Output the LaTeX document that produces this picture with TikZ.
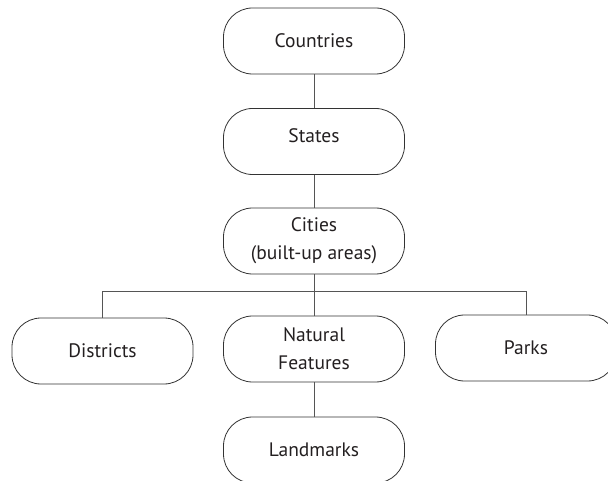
\documentclass[tikz,border=0pt]{standalone}
\usepackage{fontspec}
\setmainfont{PT Sans}
\definecolor{boxc}{HTML}{333333}
\definecolor{linec}{HTML}{555555}
\definecolor{txt}{HTML}{231F20}
\begin{document}
\begin{tikzpicture}[x=1pt,y=-1pt,
  lbl/.style={font=\fontsize{19.5}{28}\selectfont, text=txt},
  box/.style={draw=boxc, line width=0.8pt, rounded corners=29pt,
    minimum width=181pt, minimum height=66pt, inner sep=0pt,
    lbl, align=center},
  conn/.style={draw=linec, line width=0.9pt}]
\useasboundingbox (0,0) rectangle (608,481);
\clip (0,0) rectangle (608,481);
\node[box] (countries) at (314,41) {Countries};
\node[box, label={[yshift=6pt, lbl]center:States}] (states) at (314,141.5) {};
\node[box] (cities) at (314,241) {Cities\\(built-up areas)};
\node[box] (districts) at (102.5,351) {Districts};
\node[box] (natural) at (314,349) {Natural\\Features};
\node[box] (parks) at (526,348) {Parks};
\node[box] (landmarks) at (314,450) {Landmarks};
\coordinate (bus) at (314,291);
\coordinate (busL) at (districts.north |- bus);
\coordinate (busR) at (parks.north |- bus);
\draw[conn] (countries.south) -- (states.north);
\draw[conn] (states.south) -- (cities.north);
\draw[conn] (cities.south) -- (natural.north);
\draw[conn] (busL) -- (busR);
\draw[conn] (busL) -- (districts.north);
\draw[conn] (busR) -- (parks.north);
\draw[conn] (natural.south) -- (landmarks.north);
\end{tikzpicture}
\end{document}
